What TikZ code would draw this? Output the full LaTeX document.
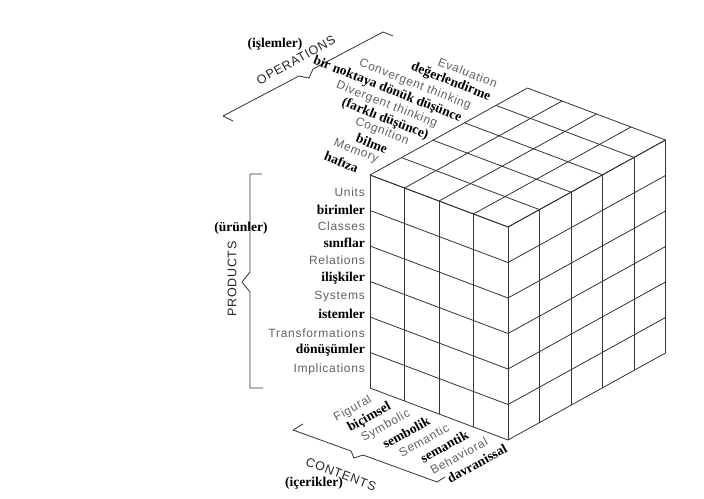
\documentclass[tikz,border=0pt]{standalone}
\usepackage{fontspec}
\newfontfamily\engf[LetterSpace=6]{Liberation Sans}
\newfontfamily\trf{Liberation Serif}
\begin{document}
\begin{tikzpicture}[x=1pt,y=-1pt,
  grid/.style={line width=0.8pt,draw=black!80,line join=round},
  brace/.style={line width=0.8pt,draw=black!80,line join=round},
  en/.style={font=\engf\fontsize{12}{14}\selectfont,text=black!62,inner sep=0pt},
  tr/.style={font=\trf\bfseries\fontsize{13.5}{15}\selectfont,text=black,inner sep=0pt},
  axis/.style={font=\engf\fontsize{12.5}{14}\selectfont,text=black!85,inner sep=0pt},
  oplab/.style={rotate=-21.5,anchor=east},
  ctlab/.style={rotate=29,anchor=east}]
\useasboundingbox (0,0) rectangle (704,498);
\fill[white] (0,0) rectangle (704,498);

% cube: left corner (370,175); contents step (34.5,13), operations step (31.5,-17.4), products step 35.5
% top face
\foreach \j in {0,...,5}
  \draw[grid] ({370+31.5*\j},{175-17.4*\j}) -- ({370+31.5*\j+138},{175-17.4*\j+52});
\foreach \i in {0,...,4}
  \draw[grid] ({370+34.5*\i},{175+13*\i}) -- ({370+34.5*\i+157.5},{175+13*\i-87});
% left face
\foreach \i in {0,...,4}
  \draw[grid] ({370+34.5*\i},{175+13*\i}) -- ({370+34.5*\i},{175+13*\i+213});
\foreach \k in {0,...,6}
  \draw[grid] (370,{175+35.5*\k}) -- (508,{227+35.5*\k});
% right face
\foreach \j in {0,...,5}
  \draw[grid] ({508+31.5*\j},{227-17.4*\j}) -- ({508+31.5*\j},{227-17.4*\j+213});
\foreach \k in {0,...,6}
  \draw[grid] (508,{227+35.5*\k}) -- (665.5,{140+35.5*\k});

% operations
\coordinate (opA) at (233,121);
\coordinate (opB) at (223,116);
\coordinate (opC) at (299,76);
\coordinate (opD) at (309,78);
\coordinate (opE) at (313,69);
\coordinate (opF) at (383,32);
\coordinate (opG) at (393,36);
\draw[brace] (opA) -- (opB) -- (opC) -- (opD) -- (opE) -- (opF) -- (opG);
\node[axis,rotate=29] (opname) at (296,60) {OPERATIONS};
\node[tr] (optr) at (275,44) {(işlemler)};

\node[en,oplab] (evalen) at (497,84) {Evaluation};
\node[tr,oplab] (evaltr) at (490,97.5) {değerlendirme};
\node[en,oplab] (conven) at (470.6,106.6) {Convergent thinking};
\node[tr,oplab] (convtr) at (461,118.5) {bir noktaya dönük düşünce};
\node[en,oplab] (diven) at (437,124.5) {Divergent thinking};
\node[tr,oplab] (divtr) at (428,136) {(farklı düşünce)};
\node[en,oplab] (cogen) at (408.5,142) {Cognition};
\node[tr,oplab] (cogtr) at (387,149.5) {bilme};
\node[en,oplab] (memen) at (378,160) {Memory};
\node[tr,oplab] (memtr) at (358,168.5) {hafıza};

% products
\coordinate (prA) at (262,174);
\coordinate (prB) at (250,174);
\coordinate (prC) at (250,272);
\coordinate (prD) at (242,282);
\coordinate (prE) at (250,292);
\coordinate (prF) at (250,388);
\coordinate (prG) at (263,388);
\draw[brace] (prA) -- (prB) -- (prC) -- (prD) -- (prE) -- (prF) -- (prG);
\node[axis,rotate=90] (prname) at (232,279) {PRODUCTS};
\node[tr] (prtr) at (241,228) {(ürünler)};

\node[en,anchor=east] (uniten) at (365,192) {Units};
\node[tr,anchor=east] (unittr) at (365,210) {birimler};
\node[en,anchor=east] (clasen) at (365,226) {Classes};
\node[tr,anchor=east] (clastr) at (365,243) {sınıflar};
\node[en,anchor=east] (relen) at (365,260) {Relations};
\node[tr,anchor=east] (reltr) at (365,278) {ilişkiler};
\node[en,anchor=east] (sysen) at (365,297) {Systems};
\node[tr,anchor=east] (systr) at (365,314) {istemler};
\node[en,anchor=east] (tranen) at (365,333) {Transformations};
\node[tr,anchor=east] (trantr) at (365,350) {dönüşümler};
\node[en,anchor=east] (impen) at (365,369) {Implications};

% contents
\coordinate (ctA) at (303,424);
\coordinate (ctB) at (293,430);
\coordinate (ctC) at (351,451);
\coordinate (ctD) at (354,458);
\coordinate (ctE) at (363,455);
\coordinate (ctF) at (437,482);
\coordinate (ctG) at (445,477);
\draw[brace] (ctA) -- (ctB) -- (ctC) -- (ctD) -- (ctE) -- (ctF) -- (ctG);
\node[axis,rotate=-20.6] (ctname) at (341,474) {CONTENTS};
\node[tr] (cttr) at (314,483) {(içerikler)};

% labels stacked along the lower left edge, one line per step of (19.3,6.9)
\node[en,ctlab] (figen) at (371,399) {Figural};
\node[tr,ctlab] (figtr) at (390.3,405.9) {biçimsel};
\node[en,ctlab] (symen) at (409.6,412.8) {Symbolic};
\node[tr,ctlab] (symtr) at (428.9,419.7) {sembolik};
\node[en,ctlab] (semen) at (448.2,426.6) {Semantic};
\node[tr,ctlab] (semtr) at (467.5,433.5) {semantik};
\node[en,ctlab] (behen) at (486.8,440.4) {Behavioral};
\node[tr,ctlab] (behtr) at (506.1,447.3) {davranissal};
\end{tikzpicture}
\end{document}
